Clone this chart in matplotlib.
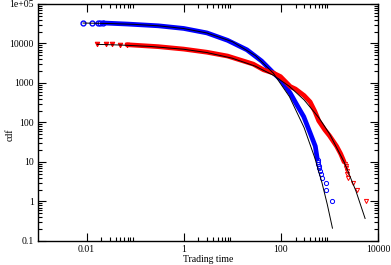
import matplotlib
matplotlib.use("Agg")
import matplotlib.pyplot as plt
import numpy as np
from matplotlib.ticker import FixedLocator, NullFormatter

# blue series
blue_head_t = [0.0083, 0.0128, 0.017, 0.019, 0.022]
blue_head_y = [33500, 33500, 33300, 33200, 33000]
blue_body_t = [0.022, 0.07, 0.3, 1, 3, 8, 20, 40, 70, 100, 156, 220, 295, 400, 510, 560]
blue_body_y = [33000, 31000, 28000, 24000, 18500, 12000, 6900, 3600, 1800, 1200, 550, 260, 140, 54, 25, 12]
blue_tail_t = [570, 580, 590, 600, 620, 650, 680, 700, 840, 850, 1150]
blue_tail_y = [11, 10, 9, 8, 7, 6, 5, 4, 3, 2, 1]
blue_fit_t = [0.0085, 0.03, 0.1, 0.3, 1, 3, 10, 30, 70, 150, 300, 500, 700, 900, 1150]
blue_fit_y = [32900, 31980, 30400, 28000, 23880, 18430, 11120, 4900, 1765, 448, 74, 12.5, 2.96, 0.84, 0.21]

# red series
red_head_t = [0.0165, 0.025, 0.034, 0.049, 0.068]
red_head_y = [9550, 9500, 9450, 9400, 9300]
red_body_t = [0.068, 0.3, 1, 3, 8, 27, 44, 70, 98, 156, 200, 300, 400, 500, 600, 800, 1000, 1400, 1700, 2000]
red_body_y = [9300, 8300, 7200, 6000, 4800, 3000, 2150, 1780, 1450, 810, 700, 480, 330, 190, 110, 65, 46, 25, 16, 10]
red_tail_t = [2100, 2150, 2200, 2250, 2280, 2350, 3100, 3650, 5600]
red_tail_y = [9, 8, 7, 6, 5, 4, 3, 2, 1]
red_fit_t = [0.0165, 0.05, 0.2, 1, 3, 10, 30, 70, 150, 300, 600, 1000, 2000, 3500, 5400]
red_fit_y = [9490, 9126, 8430, 7130, 5890, 4230, 2646, 1562, 816, 372, 133, 51.5, 9.9, 1.83, 0.37]

x_major = [0.01, 1, 100, 10000]
x_labels = ["0.01", "1", "100", "10000"]
y_major = [0.1, 1, 10, 100, 1000, 10000, 100000]
y_labels = ["0.1", "1", "10", "100", "1000", "10000", "1e+05"]

plt.rcParams["font.family"] = ["Liberation Serif", "DejaVu Serif"]

fig = plt.figure(figsize=(3.91, 2.65), dpi=100)
ax = fig.add_axes([0.097, 0.091, 0.870, 0.894])

ax.plot(blue_body_t, blue_body_y, color="blue", lw=3.4, solid_capstyle="round", zorder=2)
ax.plot(blue_head_t, blue_head_y, ls="none", marker="o", ms=3.5, mfc="none", mec="blue", mew=1.0, zorder=2)
ax.plot(blue_tail_t, blue_tail_y, ls="none", marker="o", ms=3.0, mfc="none", mec="blue", mew=0.7, zorder=2)

ax.plot(red_body_t, red_body_y, color="red", lw=3.4, solid_capstyle="round", zorder=2)
ax.plot(red_head_t, red_head_y, ls="none", marker="v", ms=3.3, mfc="red", mec="red", mew=0.7, zorder=2)
ax.plot(red_tail_t, red_tail_y, ls="none", marker="v", ms=3.0, mfc="none", mec="red", mew=0.7, zorder=2)

ax.plot(blue_fit_t, blue_fit_y, color="black", lw=0.7, zorder=3)
ax.plot(red_fit_t, red_fit_y, color="black", lw=0.7, zorder=3)

ax.set_xscale("log")
ax.set_yscale("log")
ax.set_xlim(0.001, 10000)
ax.set_ylim(0.1, 100000)

ax.xaxis.set_major_locator(FixedLocator(x_major))
ax.set_xticklabels(x_labels)
x_minor = [m * k for m in x_major[:-1] for k in range(2, 10)]
ax.xaxis.set_minor_locator(FixedLocator(x_minor))
ax.xaxis.set_minor_formatter(NullFormatter())

ax.yaxis.set_major_locator(FixedLocator(y_major))
ax.set_yticklabels(y_labels)
y_minor = [m * k for m in y_major[:-1] for k in range(2, 10)]
ax.yaxis.set_minor_locator(FixedLocator(y_minor))
ax.yaxis.set_minor_formatter(NullFormatter())

ax.tick_params(which="both", direction="in", top=True, right=True, labelsize=7, width=0.8, pad=3)
ax.tick_params(which="major", length=6)
ax.tick_params(which="minor", length=3)
for s in ax.spines.values():
    s.set_linewidth(1.0)

ax.set_xlabel("Trading time", fontsize=7, labelpad=1)
fig.text(0.027, 0.49, "cdf", rotation=90, fontsize=7, ha="center", va="center")

fig.savefig("out.png", dpi=100)
